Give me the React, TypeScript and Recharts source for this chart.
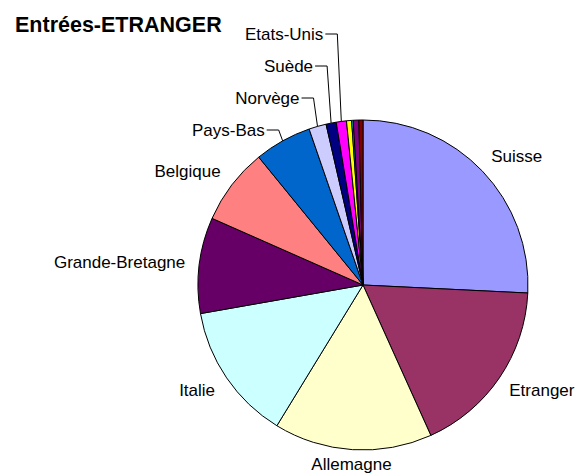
import React from 'react';
import { PieChart, Pie, Cell } from 'recharts';

const countries = [
  'Suisse', 'Etranger', 'Allemagne', 'Italie', 'Grande-Bretagne', 'Belgique', 'Pays-Bas',
  'Norvège', 'Suède', 'Etats-Unis', 'Autre 1', 'Autre 2', 'Autre 3', 'Autre 4',
];
const shares = [25.8, 17.5, 15.5, 13.5, 9.4, 7.5, 5.6, 1.7, 1.0, 1.0, 0.5, 0.15, 0.55, 0.4];
const shownLabels = [
  'Suisse', 'Etranger', 'Allemagne', 'Italie', 'Grande-Bretagne', 'Belgique', 'Pays-Bas',
  'Norvège', 'Suède', 'Etats-Unis', '', '', '', '',
];
const colors = [
  '#9999FF', '#993366', '#FFFFCC', '#CCFFFF', '#660066', '#FF8080', '#0066CC',
  '#CCCCFF', '#000080', '#FF00FF', '#FFFF00', '#00FFFF', '#800080', '#800000',
];
// labels from this index on are stacked above the pie with leader lines
const firstStacked = 6;

const pieData = countries.map((name, i) => ({ name, value: shares[i] }));

const RAD = Math.PI / 180;
const font = 'Liberation Sans, Arial, sans-serif';

const renderLabel = (props: any) => {
  const { cx, cy, midAngle, outerRadius, index } = props;
  const text = shownLabels[index];
  if (!text) return null;
  const cos = Math.cos(-midAngle * RAD);
  const sin = Math.sin(-midAngle * RAD);

  if (index >= firstStacked) {
    const ex = cx + outerRadius * cos;
    const ey = cy + outerRadius * sin;
    const ly = cy - outerRadius + 10 - (index - firstStacked) * 32;
    const elbowX = ex - 4;
    return (
      <g key={`lbl-${index}`}>
        <polyline
          points={`${ex},${ey} ${elbowX},${ly} ${elbowX - 12},${ly}`}
          fill="none"
          stroke="#000"
          strokeWidth={1}
        />
        <text x={elbowX - 14} y={ly} textAnchor="end" dominantBaseline="central"
          fontFamily={font} fontSize={17} fill="#000">
          {text}
        </text>
      </g>
    );
  }

  const anchor = cos > 0.3 ? 'start' : cos < -0.3 ? 'end' : 'middle';
  const rx = outerRadius + (anchor === 'start' ? 12 : anchor === 'end' ? 14 : 18);
  const ry = outerRadius + (anchor === 'middle' ? 15 : 22);
  const x = cx + rx * cos;
  const y = cy + ry * sin;
  return (
    <text key={`lbl-${index}`} x={x} y={y} textAnchor={anchor} dominantBaseline="central"
      fontFamily={font} fontSize={17} fill="#000">
      {text}
    </text>
  );
};

export default function App() {
  return (
    <div style={{ position: 'absolute', left: 0, top: 0, width: 578, height: 476, background: '#fff' }}>
      <div style={{
        position: 'absolute', left: 15, top: 11, fontFamily: font, fontWeight: 'bold',
        fontSize: 21.5, color: '#000', lineHeight: '28px', zIndex: 1,
      }}>
        Entrées-ETRANGER
      </div>
      <PieChart width={578} height={476}>
        <Pie
          data={pieData}
          dataKey="value"
          nameKey="name"
          cx={358}
          cy={280}
          outerRadius={165}
          startAngle={90}
          endAngle={-270}
          stroke="#000"
          strokeWidth={1}
          label={renderLabel}
          labelLine={false}
          isAnimationActive={false}
        >
          {pieData.map((d, i) => (
            <Cell key={d.name} fill={colors[i]} />
          ))}
        </Pie>
      </PieChart>
    </div>
  );
}
